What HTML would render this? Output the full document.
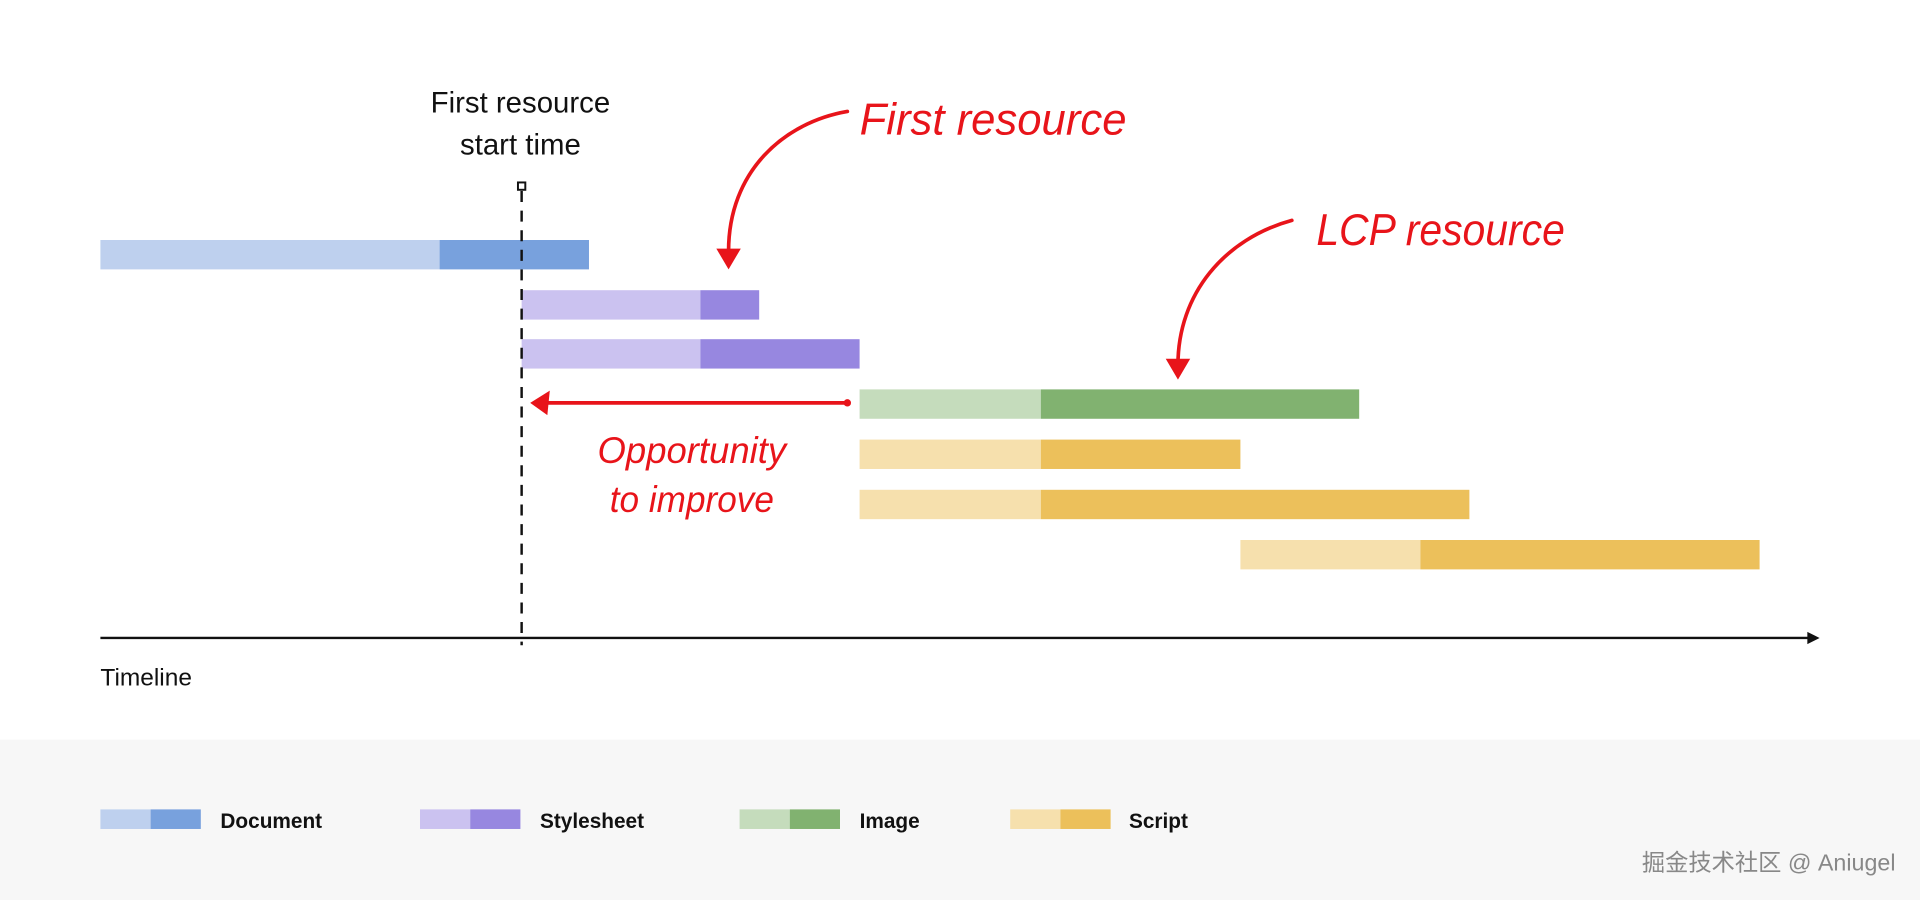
<!DOCTYPE html>
<html><head><meta charset="utf-8"><style>
html,body{margin:0;padding:0;background:#fff}
svg{display:block}
</style></head><body>
<svg width="1920" height="900" viewBox="0 0 1568 735" xmlns="http://www.w3.org/2000/svg">
<rect x="0" y="0" width="1568" height="735" fill="#fff"/>
<rect x="0" y="604" width="1568" height="131" fill="#f7f7f7"/>
<g font-family="Liberation Sans, sans-serif" fill="#111" text-anchor="middle" font-size="24">
<text x="425" y="92">First resource</text>
<text x="425" y="126">start time</text>
</g>
<!-- bars -->
<rect x="82" y="196" width="277" height="24" fill="#bed0ee"/>
<rect x="359" y="196" width="122" height="24" fill="#78a1dd"/>
<rect x="426" y="237" width="146" height="24" fill="#cbc2f0"/>
<rect x="572" y="237" width="48" height="24" fill="#9787e0"/>
<rect x="426" y="277" width="146" height="24" fill="#cbc2f0"/>
<rect x="572" y="277" width="130" height="24" fill="#9787e0"/>
<rect x="702" y="318" width="148" height="24" fill="#c5dcbc"/>
<rect x="850" y="318" width="260" height="24" fill="#81b270"/>
<rect x="702" y="359" width="148" height="24" fill="#f6e0ad"/>
<rect x="850" y="359" width="163" height="24" fill="#ecc05b"/>
<rect x="702" y="400" width="148" height="24" fill="#f6e0ad"/>
<rect x="850" y="400" width="350" height="24" fill="#ecc05b"/>
<rect x="1013" y="441" width="147" height="24" fill="#f6e0ad"/>
<rect x="1160" y="441" width="277" height="24" fill="#ecc05b"/>
<!-- dashed line -->
<line x1="426" y1="156" x2="426" y2="527" stroke="#111" stroke-width="2" stroke-dasharray="9,7"/>
<rect x="423" y="149" width="6" height="6" fill="#fff" stroke="#111" stroke-width="1.6"/>
<!-- axis -->
<line x1="82" y1="521" x2="1480" y2="521" stroke="#111" stroke-width="2"/>
<path d="M1486 521 L1476 516 L1476 526 Z" fill="#111"/>
<text x="82" y="560" font-family="Liberation Sans, sans-serif" font-size="20" fill="#111">Timeline</text>
<!-- annotations -->
<g fill="none" stroke="#e8141a" stroke-width="3" stroke-linecap="round">
<path d="M692 91 C640 100 595 140 595 205"/>
<path d="M1055 180 C1000 195 962 240 962 298"/>
<path d="M692 329 L440 329"/>
</g>
<g fill="#e8141a">
<path d="M585 203 L605 203 L595 220 Z"/>
<path d="M952 293 L972 293 L962 310 Z"/>
<path d="M433 329 L449 319 L447 339 Z"/>
<circle cx="692" cy="329" r="3"/>
</g>
<g font-family="Liberation Sans, sans-serif" font-style="italic" fill="#e8141a">
<text x="702" y="110" font-size="36" textLength="218" lengthAdjust="spacingAndGlyphs">First resource</text>
<text x="1075" y="200" font-size="36" textLength="203" lengthAdjust="spacingAndGlyphs">LCP resource</text>
<text x="488" y="378" font-size="30" textLength="154" lengthAdjust="spacingAndGlyphs">Opportunity</text>
<text x="498" y="418" font-size="30" textLength="134" lengthAdjust="spacingAndGlyphs">to improve</text>
</g>
<!-- legend -->
<g font-family="Liberation Sans, sans-serif" font-weight="bold" font-size="17" fill="#111">
<rect x="82" y="661" width="41" height="16" fill="#bed0ee"/><rect x="123" y="661" width="41" height="16" fill="#78a1dd"/>
<text x="180" y="676">Document</text>
<rect x="343" y="661" width="41" height="16" fill="#cbc2f0"/><rect x="384" y="661" width="41" height="16" fill="#9787e0"/>
<text x="441" y="676">Stylesheet</text>
<rect x="604" y="661" width="41" height="16" fill="#c5dcbc"/><rect x="645" y="661" width="41" height="16" fill="#81b270"/>
<text x="702" y="676">Image</text>
<rect x="825" y="661" width="41" height="16" fill="#f6e0ad"/><rect x="866" y="661" width="41" height="16" fill="#ecc05b"/>
<text x="922" y="676">Script</text>
</g>
<text x="1548" y="711" text-anchor="end" font-family="Liberation Sans, 'Noto Sans CJK SC', sans-serif" font-size="19" fill="#888">掘金技术社区 @ Aniugel</text>
</svg>
</body></html>
